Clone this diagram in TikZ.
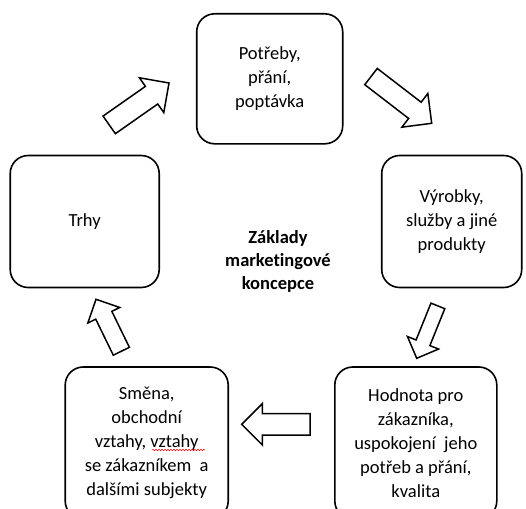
\documentclass[tikz,border=0pt]{standalone}
\usepackage{fontspec}
\setmainfont{Carlito}[Ligatures=NoCommon]
\usepackage{tikz}
\usetikzlibrary{shapes,arrows,positioning,calc,decorations.pathmorphing}
\usepackage{xcolor}

\tikzset{
  conbox/.style={draw, line width=1.6pt, rounded corners=18pt, align=center,
    inner sep=2pt, font=\fontsize{18.5}{24}\selectfont},
  blockarrow/.style={single arrow, draw, line width=1.5pt, fill=white,
    anchor=tip, inner xsep=0pt, outer sep=0pt, minimum width=0pt},
  spell/.style={red, line width=0.5pt, decorate,
    decoration={snake, amplitude=0.8pt, segment length=3pt}}
}

\begin{document}
\begin{tikzpicture}[x=1pt, y=-1pt]
            \clip (0,0) rectangle (526,508);
            % Boxes
            \node[conbox, minimum width=146pt, minimum height=130pt] (potreby) at (269.7,78.8) {Potřeby,\\přání,\\poptávka};
            \node[conbox, minimum width=140pt, minimum height=132pt] (vyrobky) at (451.7,221.5) {Výrobky,\\služby a jiné\\produkty};
            \node[conbox, minimum width=162pt, minimum height=152pt] (hodnota) at (415.8,443) {Hodnota pro\\zákazníka,\\uspokojení~ jeho\\potřeb a přání,\\kvalita};
            \node[conbox, minimum width=163pt, minimum height=152pt] (smena) at (146.7,443) {Směna,\\obchodní\\vztahy, vztahy\\se zákazníkem~ a\\dalšími subjekty};
            \node[conbox, minimum width=149pt, minimum height=132pt] (trhy) at (84.7,221.5) {Trhy};
            
            % Centre
            \node[align=center, font=\fontsize{18.5}{23}\selectfont\bfseries] (zaklady) at (278,261) {Základy\\marketingové\\koncepce};
            
            % Block arrows
            \node[blockarrow, rotate=35, minimum height=73pt, inner ysep=10pt, single arrow head extend=10.5pt] (arrA) at (169,83) {};
            \node[blockarrow, rotate=-37.6, minimum height=76.6pt, inner ysep=9.5pt, single arrow head extend=11pt] (arrB) at (431.7,123.3) {};
            \node[blockarrow, rotate=-112, minimum height=56.5pt, inner ysep=6.7pt, single arrow head extend=9.3pt] (arrC) at (416.7,358.3) {};
            \node[blockarrow, rotate=180, minimum height=68.3pt, inner ysep=10pt, single arrow head extend=10pt] (arrD) at (241.7,424.3) {};
            \node[blockarrow, rotate=116, minimum height=57.8pt, inner ysep=8.2pt, single arrow head extend=8.8pt] (arrE) at (96,299.3) {};
            
            % Spell check mark
            \draw[spell] (152,450) -- (205,450);
\end{tikzpicture}
\end{document}
